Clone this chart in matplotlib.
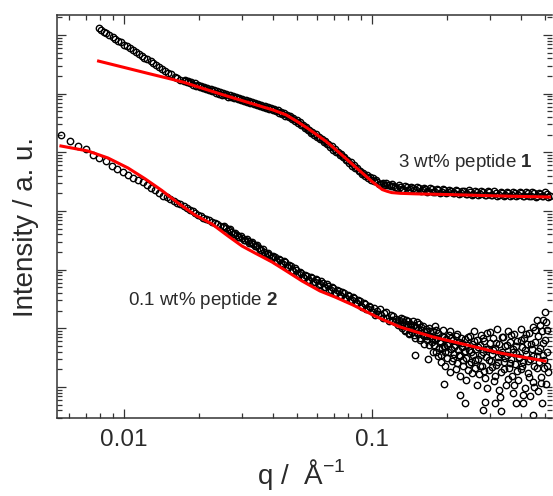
import matplotlib
matplotlib.use("Agg")
import matplotlib.pyplot as plt
from matplotlib.ticker import LogLocator, NullFormatter, FixedLocator, FixedFormatter

# 3 wt% peptide 1 (upper curve), q in 1/A, intensity in a.u.
q_pep1 = [0.0079, 0.0081, 0.0083, 0.0085, 0.0087, 0.0090, 0.0092, 0.0095, 0.0097, 0.0100,
          0.0103, 0.0106, 0.0109, 0.0112, 0.0115, 0.0118, 0.0121, 0.0124, 0.0128, 0.0131,
          0.0135, 0.0139, 0.0143, 0.0147, 0.0151, 0.0155, 0.0160, 0.0164, 0.0169,
          0.0174, 0.0179, 0.0184, 0.0190, 0.0196, 0.0202, 0.0208, 0.0214, 0.0220, 0.0227,
          0.0234, 0.0241, 0.0248, 0.0255, 0.0263, 0.0271, 0.0279, 0.0287, 0.0296, 0.0305,
          0.0314, 0.0323, 0.0333, 0.0343, 0.0353, 0.0364, 0.0375, 0.0386, 0.0398, 0.0410,
          0.0422, 0.0435, 0.0448, 0.0461, 0.0475, 0.0489, 0.0504, 0.0519, 0.0535, 0.0551,
          0.0567, 0.0584, 0.0602, 0.0620, 0.0638, 0.0657, 0.0677, 0.0697, 0.0718, 0.0740,
          0.0762, 0.0785, 0.0808, 0.0833, 0.0858, 0.0883, 0.0910, 0.0937, 0.0965, 0.0994,
          0.102, 0.105, 0.109, 0.112, 0.115, 0.119, 0.122, 0.126, 0.130, 0.134,
          0.138, 0.142, 0.146, 0.150, 0.155, 0.160, 0.164, 0.169, 0.174, 0.180,
          0.185, 0.191, 0.196, 0.202, 0.208, 0.215, 0.221, 0.228, 0.235, 0.242,
          0.249, 0.256, 0.264, 0.272, 0.280, 0.289, 0.297, 0.306, 0.315, 0.325,
          0.335, 0.345, 0.355, 0.366, 0.377, 0.388, 0.400, 0.412, 0.424, 0.437,
          0.450, 0.463, 0.477, 0.491, 0.506, 0.521]
I_pep1 = [12950, 12110, 11340, 10650, 10000, 9130, 8610, 7900, 7480, 6880,
          6370, 5890, 5460, 5090, 4720, 4420, 4130, 3870, 3550, 3350,
          3080, 2850, 2640, 2450, 2290, 2130, 1960, 1830, 1690,
          1631, 1562, 1495, 1427, 1361, 1304, 1248, 1196, 1150, 1097,
          1046, 1006, 967, 934, 894, 860, 830, 798, 771, 741,
          715, 690, 666, 638, 616, 590, 569, 548, 529, 500,
          475, 447, 419, 395, 368, 342, 317, 291, 263, 238,
          217, 198, 182, 166, 151, 136.5, 123.3, 111.7, 101.3, 91.1,
          82.3, 73.7, 66.3, 59.4, 53.2, 47.9, 42.7, 39.3, 36.5, 34.3,
          32.7, 31.1, 29.3, 28.1, 27.3, 26.6, 27.0, 24.9, 26.0, 24.1,
          25.3, 23.5, 24.6, 22.9, 24.3, 22.5, 23.8, 21.9, 23.3, 21.4,
          22.9, 21.0, 22.6, 20.7, 22.2, 20.4, 21.9, 19.9, 21.5, 19.7,
          21.2, 19.4, 21.0, 19.2, 20.8, 19.1, 20.7, 18.9, 20.5, 18.8,
          20.4, 18.7, 20.3, 18.5, 20.2, 18.4, 20.1, 18.3, 20.0, 18.2,
          19.9, 18.1, 19.8, 18.0, 19.6, 17.9]
# points in between (the measured curve is much denser than one row of circles)
q_pep1_b = [0.01765, 0.01815, 0.0187, 0.0193, 0.0199, 0.0205, 0.0211, 0.0217, 0.02235, 0.02305,
            0.02375, 0.02445, 0.02515, 0.0259, 0.0267, 0.0275, 0.0283, 0.02915, 0.03005, 0.03095,
            0.03185, 0.0328, 0.0338, 0.0348, 0.03585, 0.03695, 0.03805, 0.0392, 0.0404, 0.0416,
            0.04285, 0.04415, 0.04545, 0.0468, 0.0482, 0.04965, 0.05115, 0.0527, 0.0543, 0.0559,
            0.05755, 0.0593, 0.0611, 0.0629, 0.06475, 0.0667, 0.0687, 0.07075, 0.0729, 0.0751,
            0.07735, 0.07965, 0.08205, 0.08455, 0.08705, 0.08965, 0.09235, 0.0951, 0.09795, 0.1007,
            0.1035, 0.107, 0.1105, 0.1135, 0.117, 0.1205, 0.124, 0.128, 0.132, 0.136,
            0.140, 0.144, 0.148, 0.1525, 0.1575, 0.162, 0.1665, 0.1715, 0.177, 0.1825,
            0.188, 0.1935, 0.199, 0.205, 0.2115, 0.218, 0.2245, 0.2315, 0.2385, 0.2455,
            0.2525, 0.260, 0.268, 0.276, 0.2845, 0.293, 0.3015, 0.3105, 0.320, 0.330,
            0.340, 0.350, 0.3605, 0.3715, 0.3825, 0.394, 0.406, 0.418, 0.4305, 0.4435,
            0.4565, 0.470, 0.484, 0.4985, 0.5135]
I_pep1_b = [1708, 1636, 1563, 1492, 1426, 1365, 1308, 1255, 1202, 1147,
            1098, 1056, 1017, 978, 938, 904, 871, 839, 809, 779,
            752, 725, 698, 671, 645, 620, 598, 576, 551, 522,
            493, 463, 435, 408, 380, 353, 325, 296, 268, 243,
            222, 203, 186, 170, 154, 139, 125.7, 114, 103, 92.8,
            83.5, 74.9, 67.2, 60.2, 54.1, 48.5, 43.9, 40.6, 37.9, 35.8,
            33.2, 29.3, 30.1, 29.9, 27.5, 28.8, 25.4, 27.4, 24.0, 26.9,
            23.1, 25.7, 22.4, 25.7, 22.1, 24.9, 21.4, 24.5, 21.2, 23.9,
            20.6, 23.7, 20.5, 23.1, 19.9, 22.9, 19.8, 22.3, 19.3, 22.4,
            18.8, 22.0, 18.8, 21.9, 18.5, 21.6, 18.6, 21.6, 18.2, 21.3,
            18.3, 21.3, 17.9, 21.0, 18.1, 21.1, 17.8, 20.8, 17.9, 20.9,
            17.6, 20.6, 17.8, 20.7, 17.4]

# 0.1 wt% peptide 2 (lower curve)
q_pep2 = [0.00556, 0.00604, 0.00652, 0.00700, 0.00748, 0.00796, 0.00844, 0.00892, 0.00940, 0.00988,
          0.0104, 0.0109, 0.0114, 0.0119, 0.0124, 0.0129, 0.0134, 0.0139, 0.0144, 0.0149,
          0.0154, 0.0159, 0.0164, 0.0169, 0.0174, 0.0179, 0.0184, 0.0189, 0.0194, 0.0199,
          0.0204, 0.0209, 0.0214, 0.0220, 0.0226, 0.0232, 0.0238, 0.0244, 0.0250, 0.0257,
          0.0264, 0.0271, 0.0278, 0.0285, 0.0292, 0.0300, 0.0308, 0.0316, 0.0324, 0.0332,
          0.0340, 0.0349, 0.0358, 0.0367, 0.0376, 0.0385, 0.0395, 0.0405, 0.0415, 0.0425,
          0.0436, 0.0447, 0.0458, 0.0470, 0.0482, 0.0494, 0.0506, 0.0519, 0.0532, 0.0545,
          0.0559, 0.0573, 0.0587, 0.0602, 0.0617, 0.0632, 0.0648, 0.0664, 0.0681, 0.0698,
          0.0715, 0.0733, 0.0751, 0.0770, 0.0789, 0.0809, 0.0829, 0.0850, 0.0871, 0.0893,
          0.0915, 0.0938, 0.0961, 0.0985]
I_pep2 = [197, 159, 129.7, 115.3, 90.7, 80.1, 69.8, 58.7, 51.4, 45.6,
          40.9, 36.9, 33.8, 30.7, 27.6, 25.1, 22.4, 20.0, 18.2, 17.0,
          15.8, 14.8, 13.85, 13.0, 12.2, 11.3, 10.6, 9.84, 9.24, 8.65,
          8.12, 7.72, 7.36, 6.97, 6.62, 6.29, 5.96, 5.64, 5.36, 5.05,
          4.71, 4.42, 4.13, 3.88, 3.66, 3.44, 3.23, 3.05, 2.88, 2.73,
          2.57, 2.37, 2.19, 2.03, 1.88, 1.75, 1.65, 1.63, 1.42, 1.47,
          1.27, 1.33, 1.12, 1.15, 0.96, 0.99, 0.84, 0.87, 0.73, 0.78,
          0.67, 0.72, 0.61, 0.66, 0.56, 0.60, 0.50, 0.53, 0.45, 0.48,
          0.40, 0.43, 0.36, 0.395, 0.33, 0.36, 0.30, 0.33, 0.27, 0.29,
          0.235, 0.255, 0.21, 0.228]
q_pep2_b = [0.02535, 0.02605, 0.02675, 0.02745, 0.02815, 0.02885, 0.0296, 0.0304, 0.0312, 0.0320,
            0.0328, 0.0336, 0.03445, 0.03535, 0.03625, 0.03715, 0.03805, 0.0390, 0.0400, 0.0410,
            0.0420, 0.04305, 0.04415, 0.04525, 0.0464, 0.0476, 0.0488, 0.0500, 0.05125, 0.05255,
            0.05385, 0.0552, 0.0566, 0.0580, 0.05945, 0.06095, 0.06245, 0.0640, 0.0656, 0.06725,
            0.06895, 0.07065, 0.0724, 0.0742, 0.07605, 0.07795, 0.0799, 0.0819, 0.08395, 0.08605,
            0.0882, 0.0904, 0.09265, 0.09495, 0.0973]
I_pep2_b = [5.52, 4.64, 4.84, 4.06, 4.25, 3.58, 3.76, 3.17, 3.33, 2.82,
            2.97, 2.52, 2.64, 2.14, 2.26, 1.84, 1.94, 1.60, 1.72, 1.43,
            1.54, 1.28, 1.39, 1.13, 1.22, 0.976, 1.056, 0.849, 0.918, 0.739,
            0.823, 0.665, 0.754, 0.610, 0.692, 0.558, 0.629, 0.502, 0.563, 0.449,
            0.502, 0.401, 0.452, 0.365, 0.413, 0.333, 0.377, 0.305, 0.343, 0.273,
            0.304, 0.241, 0.268, 0.213, 0.239]

# noisy high-q part of peptide 2
q_pep2_hi = [0.1005, 0.1019, 0.1033, 0.1047, 0.1062, 0.1077, 0.1092, 0.1107, 0.1123, 0.1138,
             0.1154, 0.1171, 0.1188, 0.1204, 0.1221, 0.1238, 0.1255, 0.1273, 0.1291,
             0.1309, 0.1321, 0.1340, 0.1359, 0.1372, 0.1391, 0.1410, 0.1423, 0.1443, 0.1463,
             0.1477, 0.1491, 0.1505, 0.1526, 0.1548, 0.1561, 0.1583, 0.1605, 0.1620, 0.1644,
             0.1667, 0.1682, 0.1698, 0.1721, 0.1745, 0.1761,
             0.1778, 0.1795, 0.1812, 0.1829, 0.1846, 0.1863, 0.1880, 0.1898, 0.1915, 0.1933,
             0.1951, 0.1960, 0.1978, 0.1997, 0.2015, 0.2034, 0.2053, 0.2063, 0.2082, 0.2102,
             0.2121, 0.2141, 0.2161, 0.2181, 0.2201, 0.2222, 0.2243, 0.2263, 0.2274, 0.2295,
             0.2316, 0.2338, 0.2360, 0.2371, 0.2382, 0.2404, 0.2426, 0.2449, 0.2472,
             0.2496, 0.2519, 0.2542, 0.2566, 0.2590, 0.2614, 0.2638, 0.2663, 0.2688, 0.2713,
             0.2738, 0.2763, 0.2789, 0.2802, 0.2815, 0.2841, 0.2855, 0.2868, 0.2895, 0.2922,
             0.2949, 0.2977, 0.3004, 0.3032, 0.3060, 0.3089, 0.3118, 0.3132, 0.3147, 0.3176,
             0.3205, 0.3235, 0.3266, 0.3281, 0.3312, 0.3327, 0.3358, 0.3389, 0.3421, 0.3453,
             0.3485, 0.3518, 0.3550, 0.3584, 0.3618, 0.3651, 0.3685, 0.3703, 0.3720, 0.3755,
             0.3790, 0.3807, 0.3825, 0.3861, 0.3896, 0.3933, 0.3971, 0.4007, 0.4044, 0.4063,
             0.4082, 0.4121, 0.4158, 0.4197, 0.4236, 0.4276, 0.4316, 0.4337, 0.4357, 0.4398,
             0.4439, 0.4459, 0.4480, 0.4522, 0.4564, 0.4607, 0.4628, 0.4650, 0.4693, 0.4737,
             0.4780, 0.4825, 0.4847, 0.4869, 0.4892, 0.4915, 0.4961, 0.4984, 0.5007, 0.5054,
             0.5077, 0.5101, 0.5125,
             # second pass through the dense part of the cloud
             0.1318, 0.1336, 0.1355, 0.1374, 0.1393, 0.1413, 0.1432, 0.1452, 0.1473, 0.1494,
             0.1515, 0.1536, 0.1558, 0.1579, 0.1601, 0.1623, 0.1647, 0.1670, 0.1693, 0.1716,
             0.1740,
             0.1770, 0.1795, 0.1820, 0.1846, 0.1872, 0.1898, 0.1924, 0.1951, 0.1978, 0.2006,
             0.2034, 0.2063, 0.2092, 0.2121, 0.2151, 0.2181, 0.2212, 0.2243, 0.2274, 0.2305,
             0.2338, 0.2371, 0.2404, 0.2438, 0.2472,
             0.2507, 0.2542, 0.2578, 0.2614, 0.2651, 0.2688, 0.2725, 0.2763, 0.2802, 0.2841,
             0.2882, 0.2922, 0.2963, 0.3004, 0.3046, 0.3089, 0.3132, 0.3176, 0.3220, 0.3266,
             0.3312, 0.3358, 0.3405, 0.3453, 0.3501, 0.3550, 0.3601, 0.3651, 0.3703, 0.3755,
             0.3807, 0.3861, 0.3915, 0.3971, 0.4026, 0.4082, 0.4139, 0.4197, 0.4256, 0.4316,
             0.4377, 0.4439, 0.4501, 0.4564, 0.4628, 0.4693, 0.4758, 0.4825, 0.4892, 0.4961,
             0.5030, 0.5101]
I_pep2_hi = [0.190, 0.222, 0.169, 0.197, 0.175, 0.214, 0.169, 0.150, 0.182, 0.190,
             0.150, 0.134, 0.169, 0.139, 0.1625, 0.1285, 0.1445, 0.114, 0.139,
             0.150, 0.1013, 0.1285, 0.0901, 0.139, 0.1096, 0.0833, 0.1188, 0.0974, 0.1336,
             0.0770, 0.0351, 0.1054, 0.0833, 0.1188, 0.0684, 0.0937, 0.1096, 0.0740, 0.0901,
             0.0633, 0.0300, 0.1013, 0.0740, 0.0585, 0.0901,
             0.0520, 0.1096, 0.0396, 0.0684, 0.0833, 0.0462, 0.0609, 0.0351, 0.0740, 0.0937,
             0.01128, 0.0500, 0.0396, 0.0658, 0.0312, 0.0563, 0.0770, 0.0901, 0.0444, 0.0277,
             0.0633, 0.0366, 0.0520, 0.0740, 0.0256, 0.0428, 0.0585, 0.00731, 0.0338, 0.0684,
             0.0481, 0.0228, 0.0396, 0.00533, 0.0658, 0.0312, 0.0520, 0.0195, 0.0428,
             0.0740, 0.0266, 0.0541, 0.0351, 0.0901, 0.0211, 0.0444, 0.0633, 0.0300, 0.0167,
             0.0520, 0.0770, 0.0228, 0.00405, 0.0396, 0.0609, 0.00555, 0.0142, 0.0325, 0.0833,
             0.0444, 0.0195, 0.0563, 0.0277, 0.0366, 0.0684, 0.0127, 0.00533, 0.0462, 0.0237,
             0.0974, 0.0325, 0.0541, 0.00676, 0.00389, 0.0180, 0.0396, 0.0712, 0.0266, 0.0500,
             0.0108, 0.0351, 0.0901, 0.0211, 0.0585, 0.0300, 0.0154, 0.00790, 0.0444, 0.0801,
             0.0246, 0.00533, 0.0380, 0.0609, 0.0132, 0.0312, 0.0974, 0.0203, 0.0481, 0.00533,
             0.0266, 0.0684, 0.0096, 0.0366, 0.0541, 0.0173, 0.0833, 0.00703, 0.0300, 0.0444,
             0.0122, 0.00333, 0.1054, 0.0228, 0.0585, 0.0338, 0.139, 0.00855, 0.0740, 0.0266,
             0.0462, 0.0148, 0.00533, 0.0901, 0.139, 0.0351, 0.0211, 0.190, 0.0633, 0.01128,
             0.0937, 0.0396, 0.0180,
             0.1096, 0.1445, 0.0937, 0.1188, 0.1336, 0.0801, 0.1054, 0.0866, 0.114, 0.0684,
             0.1285, 0.0937, 0.0633, 0.1054, 0.0770, 0.0541, 0.0974, 0.0740, 0.0520, 0.0901,
             0.0684,
             0.0396, 0.0633, 0.0937, 0.0338, 0.0563, 0.0266, 0.0462, 0.0712, 0.0228, 0.0520,
             0.0396, 0.0180, 0.0684, 0.0312, 0.0481, 0.0203, 0.0801, 0.0351, 0.0154, 0.0563,
             0.0288, 0.0412, 0.0132, 0.0712, 0.0246,
             0.0396, 0.0173, 0.0609, 0.0288, 0.0108, 0.0481, 0.0228, 0.0351, 0.0684, 0.0187,
             0.0444, 0.0096, 0.0288, 0.0866, 0.0219, 0.0428, 0.0154, 0.0563, 0.0266, 0.00889,
             0.0366, 0.0712, 0.0203, 0.0312, 0.0520, 0.0137, 0.0256, 0.0770, 0.0396, 0.0108,
             0.0500, 0.0187, 0.0325, 0.0633, 0.0228, 0.00731, 0.0428, 0.0801, 0.0277, 0.0148,
             0.0541, 0.0338, 0.0100, 0.0937, 0.0211, 0.0412, 0.114, 0.0117, 0.0563, 0.0288,
             0.1285, 0.0228]

# model fits (red lines)
q_fit1 = [0.0079, 0.010, 0.0125, 0.015, 0.0175, 0.020, 0.025, 0.030, 0.035, 0.040,
          0.045, 0.050, 0.055, 0.060, 0.065, 0.070, 0.080, 0.090, 0.100, 0.105,
          0.110, 0.115, 0.120, 0.130, 0.150, 0.200, 0.250, 0.300, 0.350, 0.400, 0.520]
I_fit1 = [3590, 2803, 2214, 1834, 1556, 1294, 960, 759, 623, 525,
          436, 334, 257, 198, 156, 120, 73.1, 47.1, 31.8, 27.1,
          23.2, 21.7, 20.6, 20.0, 19.6, 19.1, 18.6, 18.2, 17.9, 17.7, 17.3]

q_fit2 = [0.00557, 0.00716, 0.00862, 0.01038, 0.01215, 0.01423, 0.01651, 0.01933, 0.02264, 0.02439,
          0.02627, 0.02990, 0.03375, 0.03953, 0.04584, 0.05223, 0.06170, 0.07092, 0.08381, 0.09546,
          0.1048, 0.1297, 0.1762, 0.2415, 0.3281, 0.4984]
I_fit2 = [128.2, 105.3, 80.1, 54.1, 35.5, 22.3, 13.7, 8.55, 6.00, 4.74,
          3.75, 2.53, 1.92, 1.351, 0.912, 0.641, 0.433, 0.342, 0.250, 0.190,
          0.156, 0.1054, 0.0712, 0.0520, 0.0380, 0.0277]

plt.rcParams['font.family'] = ['Liberation Sans', 'DejaVu Sans']
plt.rcParams['mathtext.fontset'] = 'custom'
plt.rcParams['mathtext.rm'] = 'Liberation Sans'
plt.rcParams['mathtext.bf'] = 'Liberation Sans:bold'

txt_col = '#2a2a2a'

fig = plt.figure(figsize=(5.53, 4.96), dpi=100)
ax = fig.add_axes([57 / 553, 78 / 496, 495 / 553, 403 / 496])
ax.set_xscale('log')
ax.set_yscale('log')

marker_style = dict(ls='none', marker='o', mfc='none', mec='black', ms=4.6, mew=1.0)
ax.plot(q_pep1, I_pep1, **marker_style)
ax.plot(q_pep1_b, I_pep1_b, **marker_style)
ax.plot(q_pep2, I_pep2, **marker_style)
ax.plot(q_pep2_b, I_pep2_b, **marker_style)
ax.plot(q_pep2_hi, I_pep2_hi, **marker_style)

ax.plot(q_fit1, I_fit1, color='red', lw=2.2, zorder=4)
ax.plot(q_fit2, I_fit2, color='red', lw=2.2, zorder=4)

ax.set_xlim(0.00537, 0.532)
ax.set_ylim(0.002962, 21910)

ax.xaxis.set_major_locator(FixedLocator([0.01, 0.1]))
ax.xaxis.set_major_formatter(FixedFormatter(['0.01', '0.1']))
ax.xaxis.set_minor_locator(LogLocator(base=10, subs=range(2, 10), numticks=20))
ax.xaxis.set_minor_formatter(NullFormatter())
ax.yaxis.set_major_locator(LogLocator(base=10, numticks=20))
ax.yaxis.set_minor_locator(LogLocator(base=10, subs=range(2, 10), numticks=40))
ax.yaxis.set_major_formatter(NullFormatter())
ax.yaxis.set_minor_formatter(NullFormatter())

ax.tick_params(which='both', direction='in', top=True, right=True, width=0.9,
               color='#333333', labelsize=17.5, labelcolor=txt_col, pad=8)
ax.tick_params(which='major', length=6.5)
ax.tick_params(which='minor', length=3.6)
for side in ['left', 'top', 'bottom']:
    ax.spines[side].set_linewidth(1.1)
    ax.spines[side].set_color('#333333')
ax.spines['right'].set_visible(False)

ax.set_ylabel('Intensity / a. u.', fontsize=20, color=txt_col)
ax.yaxis.set_label_coords(-0.036, 0.474)
ax.set_xlabel(r'q /  Å$^{-1}$', fontsize=20, color=txt_col)
ax.xaxis.set_label_coords(0.493, -0.097)

ax.text(0.689, 0.624, r'3 wt% peptide $\mathbf{1}$', transform=ax.transAxes,
        fontsize=13.5, color=txt_col, va='baseline', ha='left')
ax.text(0.143, 0.280, r'0.1 wt% peptide $\mathbf{2}$', transform=ax.transAxes,
        fontsize=13.5, color=txt_col, va='baseline', ha='left')

fig.savefig('out.png', dpi=100)
